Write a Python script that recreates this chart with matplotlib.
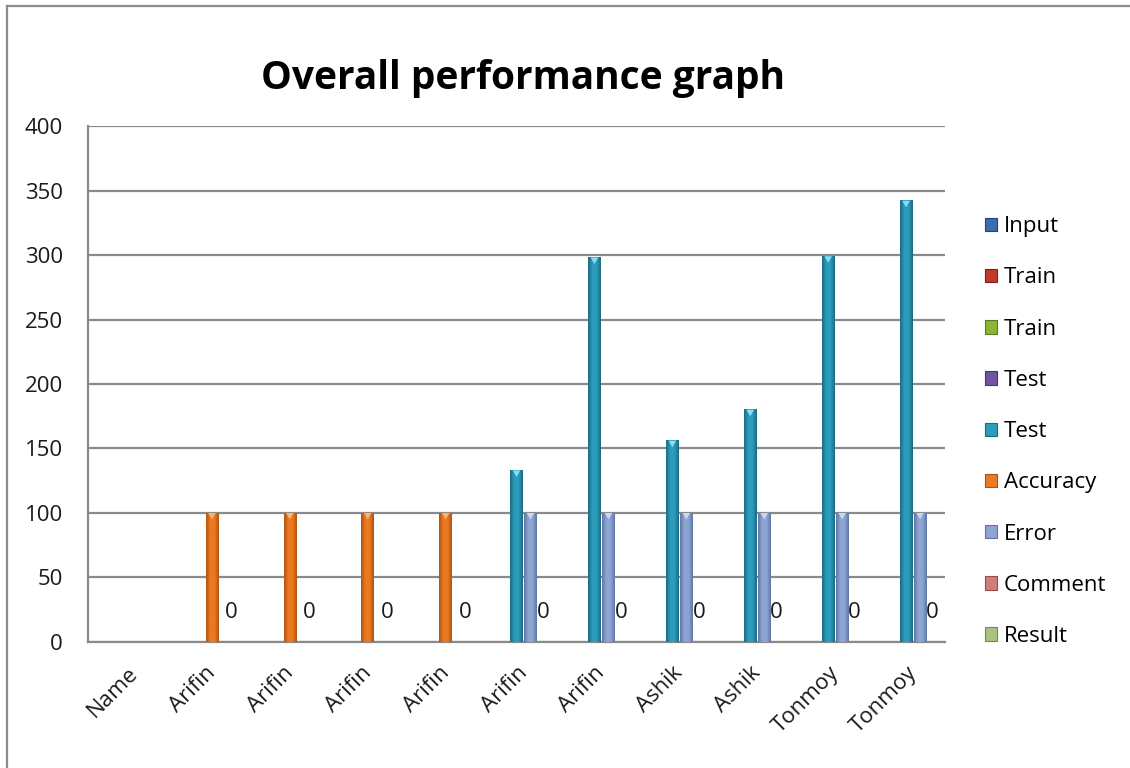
import numpy as np
import matplotlib.pyplot as plt
from matplotlib.colors import LinearSegmentedColormap
from matplotlib.lines import Line2D
from matplotlib.patches import Polygon

plt.rcParams['font.family'] = ['Open Sans', 'DejaVu Sans']

# ── data ───────────────────────────────────────────────────────────
categories = ['Name', 'Arifin', 'Arifin', 'Arifin', 'Arifin', 'Arifin',
              'Arifin', 'Ashik', 'Ashik', 'Tonmoy', 'Tonmoy']
series_names = ['Input', 'Train', 'Train', 'Test', 'Test',
                'Accuracy', 'Error', 'Comment', 'Result']
nan = np.nan
input_vals = [nan] * 11
train_a = [nan] * 11
train_b = [nan] * 11
test_a = [nan] * 11
test_b = [nan, nan, nan, nan, nan, 133, 298, 156, 180, 299, 342]
accuracy = [nan, 100, 100, 100, 100, nan, nan, nan, nan, nan, nan]
error = [nan, nan, nan, nan, nan, 100, 100, 100, 100, 100, 100]
comment = [nan, 0, 0, 0, 0, 0, 0, 0, 0, 0, 0]
result = [nan] * 11
series_vals = [input_vals, train_a, train_b, test_a, test_b,
               accuracy, error, comment, result]

# (mid colour, edge colour, top bevel colour)
series_colors = [('#3C6DB0', '#1F4578', '#7FA6DA'),
                 ('#C0392F', '#7E1E18', '#E8827B'),
                 ('#8DB33A', '#5A7A1E', '#C3DE86'),
                 ('#7353A0', '#4B3270', '#AC93CF'),
                 ('#2C9DBD', '#1B6880', '#8ADCF2'),
                 ('#EC7A22', '#B0520F', '#F9B46E'),
                 ('#8EA5D3', '#5E76A4', '#C9D7F2'),
                 ('#D27C7B', '#9C4A49', '#EBB2B1'),
                 ('#A6C47D', '#6F8C4B', '#D3E6B6')]

# ── figure ─────────────────────────────────────────────────────────
fig = plt.figure(figsize=(11.3, 7.68), dpi=100)
ax = fig.add_axes([0.0779, 0.1641, 0.7584, 0.6718])

x = np.arange(len(categories))
step = 0.09
width = 0.16
grid_c = '#8A8A8A'
fs = 16

for i, (vals, (mid, edge, top)) in enumerate(zip(series_vals, series_colors)):
    pos = x + (i - 4) * step
    vals = np.array(vals, dtype=float)
    bars = ax.bar(pos, np.nan_to_num(vals), width=width, color=mid,
                  linewidth=0, zorder=3)
    cmap = LinearSegmentedColormap.from_list(
        f's{i}', [edge, mid, mid, edge])
    grad = np.linspace(0, 1, 64).reshape(1, -1)
    for b, v in zip(bars, vals):
        if np.isnan(v) or v <= 0:
            continue
        x0, w = b.get_x(), b.get_width()
        ax.imshow(grad, cmap=cmap, extent=(x0, x0 + w, 0, v),
                  aspect='auto', zorder=4, interpolation='bicubic')
        tri = Polygon([(x0 + 0.2 * w, v), (x0 + 0.8 * w, v),
                       (x0 + 0.5 * w, v - 5)], closed=True,
                      facecolor=top, edgecolor='none', zorder=5)
        ax.add_patch(tri)

# value labels on the Comment series
for xi, v in zip(x, comment):
    if np.isnan(v):
        continue
    ax.annotate(f'{v:g}', (xi + 0.34, v), xytext=(0, 29),
                textcoords='offset pixels', ha='center', va='center',
                fontsize=fs, color='#1a1a1a', zorder=6)

ax.set_xlim(-0.5, len(categories) - 0.5)
ax.set_ylim(0, 400)
ax.set_yticks(np.arange(0, 401, 50))
ax.yaxis.grid(True, color=grid_c, linewidth=1.6, zorder=1)
ax.set_axisbelow(True)
ax.set_xticks(x)
ax.set_xticklabels(categories, rotation=45, ha='right',
                   rotation_mode='anchor', fontsize=fs)
ax.tick_params(axis='both', length=0, labelsize=fs, colors='#1a1a1a')
ax.tick_params(axis='y', pad=18)
ax.tick_params(axis='x', pad=15)
for s in ['top', 'right']:
    ax.spines[s].set_visible(False)
for s in ['left', 'bottom']:
    ax.spines[s].set_color(grid_c)
    ax.spines[s].set_linewidth(1.6)

fig.text(0.463, 0.898, 'Overall performance graph', ha='center',
         va='center', fontsize=28, fontweight='bold', color='black')

# legend
handles = [plt.Rectangle((0, 0), 1, 1, facecolor=c[0], edgecolor=c[1],
                         linewidth=0.8) for c in series_colors]
fig.legend(handles, series_names, loc='center left',
           bbox_to_anchor=(0.864, 0.438), frameon=False, fontsize=fs,
           handlelength=0.55, handleheight=0.55, handletextpad=0.3,
           labelspacing=1.36, borderaxespad=0)

# chart frame
fig.add_artist(Line2D([7 / 1130, 1.0], [1 - 6 / 768] * 2, color='#8C8C8C',
                      linewidth=1.6, transform=fig.transFigure))
fig.add_artist(Line2D([7 / 1130] * 2, [0.0, 1 - 6 / 768], color='#8C8C8C',
                      linewidth=1.6, transform=fig.transFigure))

fig.savefig('out.png', dpi=100)
